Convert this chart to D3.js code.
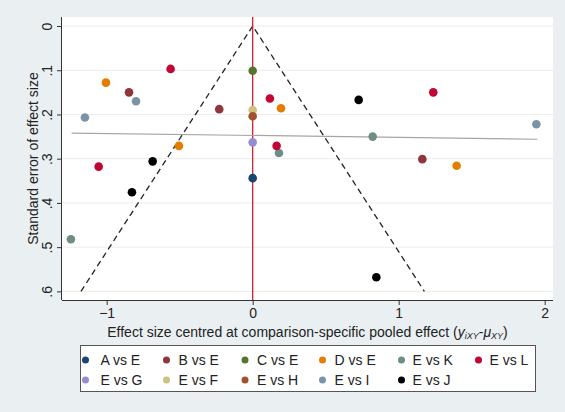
<!DOCTYPE html>
<html><head><meta charset="utf-8">
<script src="https://cdn.jsdelivr.net/npm/d3@7"></script>
<style>body{margin:0;background:#eaf0f2}svg{display:block}</style>
</head><body>
<svg id="c" width="565" height="412"></svg>
<script>
// ---- data ----
const comparisons = ["A vs E","B vs E","C vs E","D vs E","E vs K","E vs L","E vs G","E vs F","E vs H","E vs I","E vs J"];
const colors = ["#1a476f","#90353b","#55752f","#e37e00","#6e8e84","#c10534","#938dd2","#cac27e","#a0522d","#7b92a8","#000000"];
const effects = [
  [0],
  [-0.847,-0.229,1.162],
  [0],
  [-1.005,0.194,-0.505,1.397],
  [0.18,-1.245,0.822],
  [-0.562,0.118,0.164,-1.055,1.237],
  [0],
  [0],
  [0],
  [-0.799,-1.149,1.943],
  [0.726,-0.685,-0.827,0.847]
];
const stdErrors = [
  [0.344],
  [0.150,0.188,0.301],
  [0.101],
  [0.128,0.186,0.271,0.316],
  [0.287,0.482,0.250],
  [0.097,0.164,0.271,0.318,0.150],
  [0.263],
  [0.190],
  [0.204],
  [0.170,0.207,0.222],
  [0.167,0.306,0.376,0.568]
];
const xTicks = [-1,0,1,2];
const yTicks = [0,0.1,0.2,0.3,0.4,0.5,0.6];
const yTickLabels = ["0",".1",".2",".3",".4",".5",".6"];
const funnelSE = 0.6;
const regLine = [[-1.24,0.242],[1.95,0.256]];

// ---- chart ----
const svg = d3.select("#c");
svg.append("rect").attr("width",565).attr("height",412).attr("fill","#eaf0f2");
const L=62,R=553,T=17,B=300;
const x = d3.scaleLinear().domain([-1.306,2.057]).range([L,R]);
const y = d3.scaleLinear().domain([-0.0204,0.6195]).range([T,B]);

svg.append("rect").attr("x",L).attr("y",T).attr("width",R-L).attr("height",B-T).attr("fill","#fff");

// grid
svg.append("g").selectAll("line").data(yTicks).join("line")
  .attr("x1",L).attr("x2",R).attr("y1",d=>y(d)).attr("y2",d=>y(d))
  .attr("stroke","#ececec").attr("stroke-width",1);

// funnel
const fl = d3.line().x(d=>x(d[0])).y(d=>y(d[1]));
svg.append("path").attr("d",fl([[-1.96*funnelSE,funnelSE],[0,0],[1.96*funnelSE,funnelSE]]))
  .attr("fill","none").attr("stroke","#222").attr("stroke-width",1.3).attr("stroke-dasharray","6,4");

// zero line
svg.append("line").attr("x1",x(0)).attr("x2",x(0)).attr("y1",T).attr("y2",B)
  .attr("stroke","#d0202a").attr("stroke-width",1.3);

// regression line
svg.append("path").attr("d",fl(regLine)).attr("fill","none").attr("stroke","#a9a3a3").attr("stroke-width",1.2);

// points
comparisons.forEach((c,i)=>{
  const pts = effects[i].map((e,j)=>[e,stdErrors[i][j]]);
  svg.append("g").selectAll("circle").data(pts).join("circle")
    .attr("cx",d=>x(d[0])).attr("cy",d=>y(d[1])).attr("r",4.3).attr("fill",colors[i]);
});

// axes
const font = "'Liberation Sans', Arial, sans-serif";
const xa = svg.append("g").attr("transform",`translate(0,${B})`)
  .call(d3.axisBottom(x).tickValues(xTicks).tickFormat(d3.format("d")).tickSize(5).tickPadding(3));
xa.select(".domain").attr("d",`M${L},0.5H${R}`).attr("stroke","#333");
xa.selectAll("line").attr("stroke","#333");
xa.selectAll("text").attr("font-family",font).attr("font-size",14).attr("fill","#222");

const ya = svg.append("g").attr("transform",`translate(${L},0)`)
  .call(d3.axisLeft(y).tickValues(yTicks).tickFormat((d,i)=>yTickLabels[i]).tickSize(5));
ya.select(".domain").attr("d",`M-0.5,${T}V${B}`).attr("stroke","#333");
ya.selectAll("line").attr("stroke","#333");
ya.selectAll("text").attr("font-family",font).attr("font-size",14).attr("fill","#222")
  .attr("x",null).attr("dy",null)
  .attr("text-anchor","middle")
  .attr("transform","translate(-10,0) rotate(-90)");

// axis titles
const xt = svg.append("text").attr("x",(L+R)/2).attr("y",337).attr("text-anchor","middle")
  .attr("font-family",font).attr("font-size",14).attr("fill","#222");
xt.append("tspan").text("Effect size centred at comparison-specific pooled effect (");
xt.append("tspan").attr("font-style","italic").text("y");
xt.append("tspan").attr("font-style","italic").attr("font-size",9).attr("dy",2).text("iXY");
xt.append("tspan").attr("dy",-2).text("-");
xt.append("tspan").attr("font-style","italic").text("μ");
xt.append("tspan").attr("font-style","italic").attr("font-size",9).attr("dy",2).text("XY");
xt.append("tspan").attr("dy",-2).text(")");

svg.append("text").attr("transform",`translate(38,${(T+B)/2}) rotate(-90)`).attr("text-anchor","middle")
  .attr("font-family",font).attr("font-size",14).attr("fill","#222").text("Standard error of effect size");

// legend
const lg = svg.append("g");
lg.append("rect").attr("x",80.5).attr("y",345.5).attr("width",455).attr("height",46)
  .attr("fill","#fff").attr("stroke","#555").attr("stroke-width",1);
const colX = [85.5,166.5,245,322.5,401.5,478.5];
const textGap = [15,12,12,12,11,11];
const rowY = [360,380];
comparisons.forEach((c,i)=>{
  const col = i%6, cx = colX[col], cy = rowY[Math.floor(i/6)];
  lg.append("circle").attr("cx",cx).attr("cy",cy).attr("r",3.5).attr("fill",colors[i]);
  lg.append("text").attr("x",cx+textGap[col]).attr("y",cy+5).attr("font-family",font).attr("font-size",14)
    .attr("fill","#222").text(c);
});
</script>
</body></html>
